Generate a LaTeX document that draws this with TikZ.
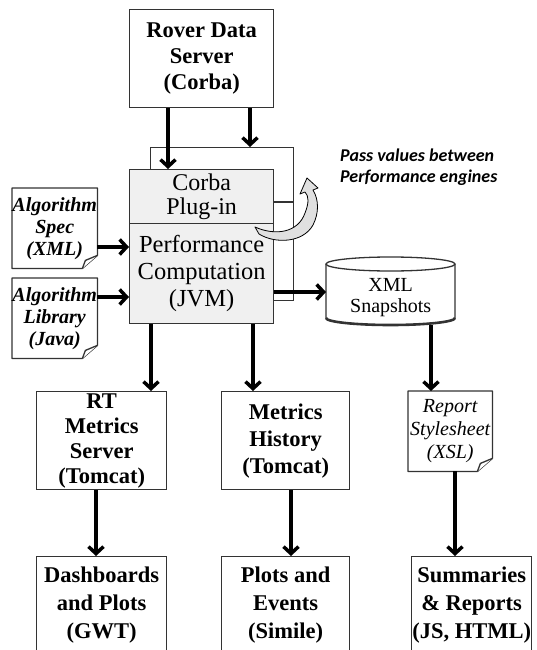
\documentclass[tikz,border=0pt]{standalone}
\usepackage{fontspec}
\setmainfont{Liberation Serif}
\newfontfamily\notefont{Carlito}
\usetikzlibrary{arrows.meta,calc,backgrounds}
\begin{document}
\begin{tikzpicture}[x=1pt,y=-1pt,
  boxline/.style={draw=black!80, line width=1.3pt},
  box/.style={boxline, fill=white, inner sep=0pt, align=center, anchor=north west},
  boldtxt/.style={font=\fontsize{22.5}{26}\selectfont\bfseries},
  doctxt/.style={inner sep=0pt, align=center, anchor=north west},
  arr/.style={line width=3.5pt, -{Straight Barb[length=7pt,width=15pt]}},
  fold/.style={boxline, fill=white, line join=round}
]
\useasboundingbox (0,0) rectangle (537,650);

% coordinates for connector positions
\coordinate (xa) at (168,0);
\coordinate (xb) at (250,0);
\coordinate (xc) at (151,0);
\coordinate (xd) at (253,0);
\coordinate (xe) at (431,0);
\coordinate (xf) at (96,0);
\coordinate (xg) at (291,0);
\coordinate (xh) at (455,0);
\coordinate (ya) at (0,247);
\coordinate (yb) at (0,297);
\coordinate (yc) at (0,292);
\coordinate (dv) at (0,202);

% Rover data server
\node[box, minimum width=144pt, minimum height=98pt, boldtxt] (rover) at (129,9)
  {Rover Data\\Server\\(Corba)};

% second performance engine behind
\node[box, minimum width=143pt, minimum height=153pt] (back) at (150,147) {};

% front performance engine
\node[box, fill=black!6, minimum width=144pt, minimum height=54pt,
      font=\fontsize{24}{24}\selectfont] (corba) at (129,169) {Corba\\Plug-in};
\node[box, fill=black!6, minimum width=144pt, minimum height=100pt,
      font=\fontsize{24.5}{27}\selectfont] (perf) at (129,223)
  {Performance\\Computation\\(JVM)};
\draw[boxline] (corba.east |- dv) -- (back.east |- dv);

% curved block arrow
\draw[black, line width=0.8pt, fill=black!12, line join=round]
  (255,227) .. controls (275,236) and (298,233) .. (305,213)
  .. controls (309,203) and (309,196) .. (305,192)
  -- (300,194) -- (307,178) -- (318,188) -- (313,190)
  .. controls (319,200) and (319,213) .. (313,225)
  .. controls (303,243) and (275,244) .. (259,234) -- cycle;

\node[anchor=west, align=left, inner sep=0pt,
      font=\notefont\bfseries\itshape\fontsize{18}{21}\selectfont] (note) at (340,167)
  {Pass values between\\Performance engines};

% documents
\node[doctxt, minimum width=85pt, minimum height=80pt,
      font=\fontsize{20}{22}\selectfont\bfseries\itshape] (spec) at (12,188)
  {Algorithm\\Spec\\(XML)};
\node[doctxt, minimum width=85pt, minimum height=80pt,
      font=\fontsize{20}{22}\selectfont\bfseries\itshape] (lib) at (12,278)
  {Algorithm\\Library\\(Java)};
\node[doctxt, minimum width=84pt, minimum height=80pt,
      font=\fontsize{20}{23}\selectfont\itshape] (rep) at (408,391)
  {Report\\Stylesheet\\(XSL)};
\begin{scope}[on background layer]
  \foreach \d in {spec,lib,rep}{
    \draw[fold] (\d.north west) -- (\d.north east) -- ($(\d.south east)+(0,-13)$)
      -- ($(\d.south east)+(-15,0)$) -- (\d.south west) -- cycle;
    \draw[fold] ($(\d.south east)+(0,-13)$) -- ($(\d.south east)+(-12,-8)$)
      -- ($(\d.south east)+(-15,0)$);
  }
\end{scope}

% XML snapshots cylinder
\node[inner sep=0pt, minimum width=129pt, minimum height=68pt, anchor=north west] (snap) at (326,257) {};
\draw[boxline, fill=white] (326,264) -- (326,318)
  arc[start angle=180, end angle=0, x radius=64.5, y radius=7] -- (455,264);
\draw[draw=black!80, line width=2.6pt] (326,318)
  arc[start angle=180, end angle=0, x radius=64.5, y radius=7];
\draw[boxline, fill=white] (390.5,264) ellipse[x radius=64.5, y radius=7];
\node[align=center, inner sep=0pt, font=\fontsize{20}{21}\selectfont] (snaptxt)
  at ($(snap.center)+(0,6)$) {XML\\Snapshots};

% middle row
\node[box, minimum width=130pt, minimum height=98pt,
      font=\fontsize{22.5}{25}\selectfont\bfseries] (rt) at (36,391)
  {RT\\Metrics\\Server\\(Tomcat)};
\node[box, minimum width=128pt, minimum height=98pt,
      font=\fontsize{22.5}{27}\selectfont\bfseries] (hist) at (221,391)
  {Metrics\\History\\(Tomcat)};

% bottom row
\node[box, minimum width=130pt, minimum height=97pt,
      font=\fontsize{22.5}{28}\selectfont\bfseries] (dash) at (36,556)
  {Dashboards\\and Plots\\(GWT)};
\node[box, minimum width=128pt, minimum height=97pt,
      font=\fontsize{22.5}{28}\selectfont\bfseries] (plots) at (221,556)
  {Plots and\\Events\\(Simile)};
\node[box, minimum width=120pt, minimum height=97pt,
      font=\fontsize{22.5}{28}\selectfont\bfseries] (summ) at (411,556)
  {Summaries\\\& Reports\\(JS, HTML)};

% connectors
\draw[arr] (rover.south -| xa) -- (corba.north -| xa);
\draw[arr] (rover.south -| xb) -- (back.north -| xb);
\draw[arr] (spec.east |- ya) -- (perf.west |- ya);
\draw[arr] (lib.east |- yb) -- (perf.west |- yb);
\draw[arr] (perf.east |- yc) -- (snap.west |- yc);
\draw[arr] (perf.south -| xc) -- (rt.north -| xc);
\draw[arr] (perf.south -| xd) -- (hist.north -| xd);
\draw[arr] (snap.south -| xe) -- (rep.north -| xe);
\draw[arr] (rt.south -| xf) -- (dash.north -| xf);
\draw[arr] (hist.south -| xg) -- (plots.north -| xg);
\draw[arr] (rep.south -| xh) -- (summ.north -| xh);
\end{tikzpicture}
\end{document}
